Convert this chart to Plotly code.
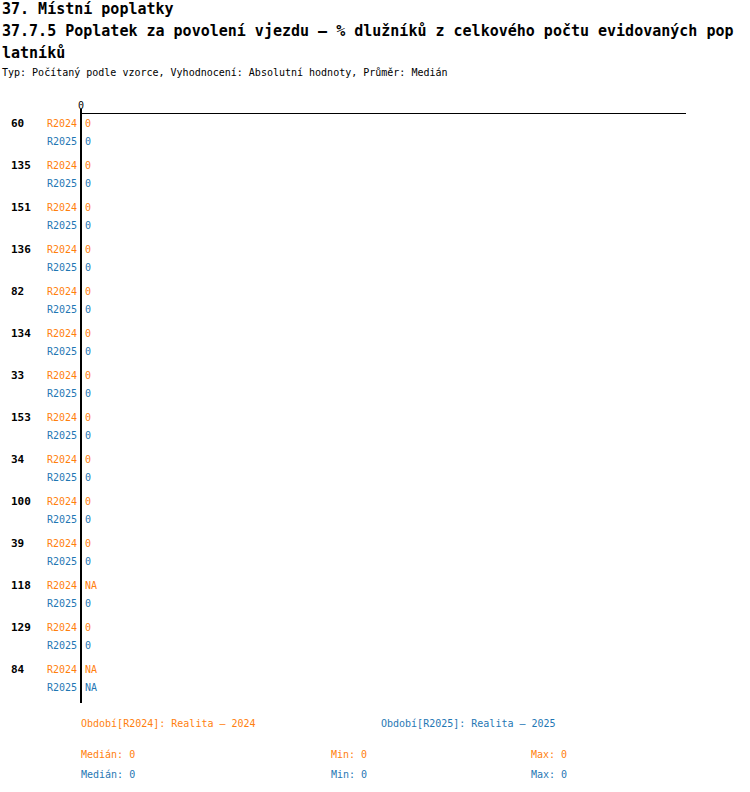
import numpy as np
import plotly.graph_objects as go

# ---- data ----
groups = ["60", "135", "151", "136", "82", "134", "33", "153", "34", "100", "39", "118", "129", "84"]
series_names = ["R2024", "R2025"]
r2024 = [0, 0, 0, 0, 0, 0, 0, 0, 0, 0, 0, None, 0, None]
r2025 = [0, 0, 0, 0, 0, 0, 0, 0, 0, 0, 0, 0, 0, None]
legend_labels = ["Období[R2024]: Realita – 2024", "Období[R2025]: Realita – 2025"]
x_ticks = [0]
x_ticklabels = ["0"]

title1 = "37. Místní poplatky"
title2 = "37.7.5 Poplatek za povolení vjezdu – % dlužníků z celkového počtu evidovaných pop"
title3 = "latníků"
subtitle = "Typ: Počítaný podle vzorce, Vyhodnocení: Absolutní hodnoty, Průměr: Medián"

# ---- style ----
W, H = 750, 792
ORANGE = "#ff7f0e"
BLUE = "#1f77b4"
colors = [ORANGE, BLUE]
MONO = "DejaVu Sans Mono"

PLOT_L, PLOT_R, PLOT_T, PLOT_B = 81, 686, 114, 703
ROW0, GROUP_STEP, ROW_STEP = 123, 42, 18


def py(p):  # pixel y -> paper y
    return (PLOT_B - p) / (PLOT_B - PLOT_T)


def px(p):  # pixel x -> paper x
    return (p - PLOT_L) / (PLOT_R - PLOT_L)


fig = go.Figure()
annotations = []
series = [r2024, r2025]

for j, (name, vals) in enumerate(zip(series_names, series)):
    ypos = [ROW0 + GROUP_STEP * i + ROW_STEP * j for i in range(len(groups))]
    xv = [v if v is not None else 0 for v in vals]
    fig.add_trace(go.Bar(
        x=xv, y=ypos, orientation="h", marker_color=colors[j],
        width=10, showlegend=False, hoverinfo="skip",
    ))
    for xx, yy, v in zip(xv, ypos, vals):
        annotations.append(dict(
            x=xx, y=yy, xref="x", yref="y", text="NA" if v is None else f"{v:g}",
            showarrow=False, xanchor="left", yanchor="middle", xshift=2,
            font=dict(family=MONO, size=10, color=colors[j]),
        ))
        annotations.append(dict(
            x=0, y=yy, xref="x", yref="y", text=name, showarrow=False,
            xanchor="right", yanchor="middle", xshift=-2,
            font=dict(family=MONO, size=10, color=colors[j]),
        ))

for i, g in enumerate(groups):
    annotations.append(dict(
        x=px(9), y=ROW0 + GROUP_STEP * i, xref="paper", yref="y",
        text=f"<b>{g}</b>", showarrow=False, xanchor="left", yanchor="middle",
        font=dict(family=MONO, size=11, color="black"),
    ))

# titles
for txt, yy, size, bold in [(title1, 9, 15, True), (title2, 31, 15, True),
                            (title3, 53, 15, True), (subtitle, 73, 10, False)]:
    annotations.append(dict(
        x=px(0), y=py(yy), xref="paper", yref="paper",
        text=f"<b>{txt}</b>" if bold else txt, showarrow=False,
        xanchor="left", yanchor="middle",
        font=dict(family=MONO, size=size, color="black"),
    ))

# legend / period labels
for j, (lab, xx) in enumerate(zip(legend_labels, [79, 379])):
    annotations.append(dict(
        x=px(xx), y=py(723), xref="paper", yref="paper", text=lab,
        showarrow=False, xanchor="left", yanchor="middle",
        font=dict(family=MONO, size=10, color=colors[j]),
    ))

# stats
for j, vals in enumerate(series):
    arr = np.array([v for v in vals if v is not None], dtype=float)
    stats = [("Medián", np.median(arr)), ("Min", arr.min()), ("Max", arr.max())]
    for (lab, val), xx in zip(stats, [79, 329, 529]):
        annotations.append(dict(
            x=px(xx), y=py(754 + 20 * j), xref="paper", yref="paper",
            text=f"{lab}: {val:g}", showarrow=False,
            xanchor="left", yanchor="middle",
            font=dict(family=MONO, size=10, color=colors[j]),
        ))

# zero line (left axis), extends slightly above the top axis
fig.add_shape(type="line", xref="paper", yref="paper", x0=0, x1=0,
              y0=0, y1=py(109), line=dict(color="black", width=2))

fig.update_layout(
    width=W, height=H,
    margin=dict(l=PLOT_L, r=W - PLOT_R, t=PLOT_T, b=H - PLOT_B, pad=0, autoexpand=False),
    paper_bgcolor="white", plot_bgcolor="white",
    annotations=annotations,
    xaxis=dict(range=[0, 1], side="top", tickvals=x_ticks, ticktext=x_ticklabels,
               showgrid=False, zeroline=False, showline=True, linecolor="black",
               linewidth=1, ticks="", tickfont=dict(family=MONO, size=10, color="black")),
    yaxis=dict(range=[PLOT_B, PLOT_T], showticklabels=False, showgrid=False,
               zeroline=False, showline=False, ticks=""),
    font=dict(family=MONO),
)

fig.write_html(
    "out.html",
    config={"displayModeBar": False},
    post_script="document.body.style.margin='0px';document.body.style.padding='0px';",
)
